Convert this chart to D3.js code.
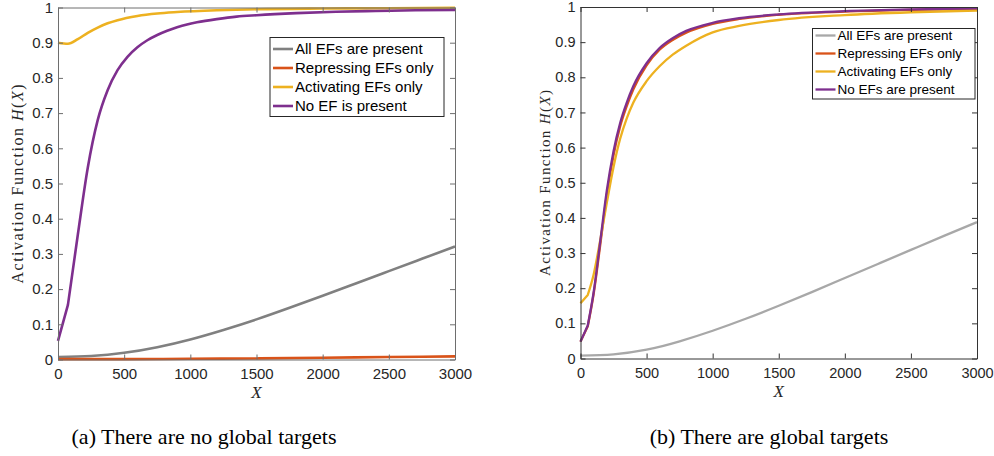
<!DOCTYPE html>
<html>
<head>
<meta charset="utf-8">
<script src="https://cdn.jsdelivr.net/npm/d3@7"></script>
<style>
  body { margin: 0; background: #fff; }
  svg { display: block; }
</style>
</head>
<body>
<svg id="chart" width="994" height="456"></svg>
<script>
// Axis ticks shared by both panels
const xTickValues = [0, 500, 1000, 1500, 2000, 2500, 3000];
const yTickValues = [0, 0.1, 0.2, 0.3, 0.4, 0.5, 0.6, 0.7, 0.8, 0.9, 1];

// Panel (a): no global targets
const aAllX  = [0, 250, 500, 750, 1000, 1250, 1500, 1750, 2000, 2250, 2500, 2750, 3000];
const aAllY  = [0.007, 0.010, 0.019, 0.035, 0.057, 0.084, 0.114, 0.147, 0.181, 0.216, 0.251, 0.286, 0.321];
const aRepX  = [0, 500, 1000, 1500, 2000, 2500, 3000];
const aRepY  = [0.001, 0.001, 0.002, 0.003, 0.005, 0.007, 0.009];
const aActX  = [0, 75, 150, 225, 300, 375, 450, 600, 750, 900, 1200, 1500, 2000, 2500, 3000];
const aActY  = [0.900, 0.897, 0.910, 0.928, 0.943, 0.955, 0.964, 0.976, 0.983, 0.987, 0.992, 0.995, 0.997, 0.998, 0.999];
const aNoneX = [0, 75, 150, 225, 300, 375, 450, 525, 600, 675, 750, 825, 900, 975, 1050, 1200, 1350, 1500, 1800, 2100, 2400, 2700, 3000];
const aNoneY = [0.053, 0.155, 0.355, 0.545, 0.680, 0.765, 0.822, 0.860, 0.887, 0.907, 0.922, 0.934, 0.944, 0.952, 0.958, 0.967, 0.974, 0.978, 0.984, 0.988, 0.990, 0.992, 0.993];

// Panel (b): global targets
const bAllX  = [0, 250, 500, 750, 1000, 1250, 1500, 1750, 2000, 2250, 2500, 2750, 3000];
const bAllY  = [0.008, 0.012, 0.025, 0.049, 0.079, 0.113, 0.150, 0.189, 0.229, 0.269, 0.309, 0.349, 0.388];
const bRepX  = [0, 55, 100, 150, 200, 250, 300, 350, 400, 500, 600, 700, 800, 1000, 1200, 1500, 2000, 2500, 3000];
const bRepY  = [0.048, 0.092, 0.185, 0.325, 0.468, 0.578, 0.660, 0.718, 0.766, 0.834, 0.879, 0.907, 0.927, 0.952, 0.966, 0.978, 0.987, 0.992, 0.995];
const bActX  = [0, 55, 100, 150, 200, 250, 300, 350, 400, 500, 600, 700, 800, 1000, 1200, 1500, 2000, 2500, 3000];
const bActY  = [0.157, 0.181, 0.240, 0.338, 0.445, 0.545, 0.625, 0.683, 0.728, 0.789, 0.832, 0.865, 0.890, 0.928, 0.946, 0.963, 0.977, 0.985, 0.990];
const bNoneX = [0, 55, 100, 150, 200, 250, 300, 350, 400, 500, 600, 700, 800, 1000, 1200, 1500, 2000, 2500, 3000];
const bNoneY = [0.048, 0.094, 0.190, 0.335, 0.480, 0.590, 0.670, 0.728, 0.775, 0.840, 0.884, 0.912, 0.932, 0.955, 0.968, 0.979, 0.988, 0.993, 0.996];

const namesA = ["All EFs are present", "Repressing EFs only", "Activating EFs only", "No EF is present"];
const namesB = ["All EFs are present", "Repressing EFs only", "Activating EFs only", "No EFs are present"];
const captions = ["(a) There are no global targets", "(b) There are global targets"];

const svg = d3.select("#chart");
const SANS = "'Liberation Sans', Arial, Helvetica, sans-serif";
const SERIF = "'Liberation Serif', 'DejaVu Serif', serif";
const TEXT = "#262626";

const zip = (xs, ys) => xs.map((v, i) => [v, ys[i]]);
const fmt = d => String(+d.toFixed(1));

function panel(opt) {
  const g = svg.append("g");
  const x = d3.scaleLinear().domain([0, 3000]).range([opt.x0, opt.x1]);
  const y = d3.scaleLinear().domain([0, 1]).range([opt.yb, opt.yt]);

  // curves: smooth through the samples; series flagged "kink" keep a
  // straight first segment (coarse first sample step)
  const smooth = d3.line().x(d => x(d[0])).y(d => y(d[1])).curve(d3.curveMonotoneX);
  const natural = d3.line().x(d => x(d[0])).y(d => y(d[1])).curve(d3.curveNatural);
  opt.series.forEach(s => {
    const pts = zip(s.xs, s.ys);
    let d;
    if (s.kink) {
      const rest = smooth(pts.slice(1));
      d = `M${x(pts[0][0])},${y(pts[0][1])}L` + rest.slice(1);
    } else if (s.natural) {
      d = natural(pts);
    } else {
      d = smooth(pts);
    }
    g.append("path")
      .attr("d", d)
      .attr("fill", "none")
      .attr("stroke", s.color)
      .attr("stroke-width", opt.lw)
      .attr("stroke-linejoin", "round");
  });

  // axes (ticks point inward, box on)
  const styleAxis = (sel, labels) => {
    sel.selectAll("path.domain").attr("stroke", opt.frame).attr("stroke-width", 1);
    sel.selectAll(".tick line").attr("stroke", opt.frame).attr("stroke-width", 1);
    sel.selectAll(".tick text")
      .attr("fill", TEXT)
      .style("font-family", SANS)
      .style("font-size", opt.tfs + "px");
    if (!labels) sel.selectAll(".tick text").remove();
  };
  g.append("g").attr("transform", `translate(0,${opt.yb})`)
    .call(d3.axisBottom(x).tickValues(xTickValues).tickFormat(fmt).tickSize(-5).tickSizeOuter(0).tickPadding(9))
    .call(s => styleAxis(s, true));
  g.append("g").attr("transform", `translate(0,${opt.yt})`)
    .call(d3.axisTop(x).tickValues(xTickValues).tickSize(-5).tickSizeOuter(0))
    .call(s => styleAxis(s, false));
  g.append("g").attr("transform", `translate(${opt.x0},0)`)
    .call(d3.axisLeft(y).tickValues(yTickValues).tickFormat(fmt).tickSize(-5).tickSizeOuter(0).tickPadding(5))
    .call(s => styleAxis(s, true));
  g.append("g").attr("transform", `translate(${opt.x1},0)`)
    .call(d3.axisRight(y).tickValues(yTickValues).tickSize(-5).tickSizeOuter(0))
    .call(s => styleAxis(s, false));

  // y label
  const yl = g.append("text")
    .attr("transform", `translate(${opt.ylx},${opt.ylc}) rotate(-90)`)
    .attr("text-anchor", "middle")
    .attr("textLength", opt.yll)
    .attr("lengthAdjust", "spacing")
    .attr("fill", TEXT)
    .style("font-family", SERIF)
    .style("font-size", opt.ylfs + "px");
  yl.append("tspan").text("Activation Function ");
  yl.append("tspan").style("font-style", "italic").text("H");
  yl.append("tspan").text("(");
  yl.append("tspan").style("font-style", "italic").text("X");
  yl.append("tspan").text(")");

  // x label
  g.append("text")
    .attr("x", (opt.x0 + opt.x1) / 2)
    .attr("y", opt.yb + 38)
    .attr("text-anchor", "middle")
    .attr("fill", TEXT)
    .style("font-family", SERIF)
    .style("font-style", "italic")
    .style("font-size", "17px")
    .text("X");

  // legend
  const L = opt.legend;
  const lg = g.append("g");
  lg.append("rect")
    .attr("x", L.x).attr("y", L.y).attr("width", L.w).attr("height", L.h)
    .attr("fill", "#fff").attr("stroke", "#262626").attr("stroke-width", 1);
  opt.series.forEach((s, i) => {
    const cy = L.y + L.first + i * L.step;
    lg.append("line")
      .attr("x1", L.x + 3).attr("x2", L.x + 23)
      .attr("y1", cy).attr("y2", cy)
      .attr("stroke", s.color).attr("stroke-width", opt.lw);
    lg.append("text")
      .attr("x", L.x + 25).attr("y", cy)
      .attr("dy", "0.35em")
      .attr("fill", "#000")
      .style("font-family", SANS)
      .style("font-size", L.fs + "px")
      .text(s.name);
  });

  // caption
  svg.append("text")
    .attr("x", opt.capX).attr("y", 444)
    .attr("text-anchor", "middle")
    .attr("fill", "#000")
    .style("font-family", SERIF)
    .style("font-size", "22px")
    .text(opt.caption);
}

panel({
  x0: 58, x1: 455, yt: 7.5, yb: 359.5, lw: 2.6, frame: "#6e6e6e", tfs: 15,
  ylx: 23, ylc: 184, yll: 199, ylfs: 16,
  series: [
    { xs: aAllX,  ys: aAllY,  color: "#808080", name: namesA[0], natural: true },
    { xs: aRepX,  ys: aRepY,  color: "#D95319", name: namesA[1] },
    { xs: aActX,  ys: aActY,  color: "#EDB120", name: namesA[2] },
    { xs: aNoneX, ys: aNoneY, color: "#7E2F8E", name: namesA[3], kink: true }
  ],
  legend: { x: 270, y: 37.5, w: 174, h: 79, first: 11.5, step: 19, fs: 15 },
  caption: captions[0], capX: 204
});

panel({
  x0: 580.5, x1: 977, yt: 7, yb: 358.5, lw: 2.3, frame: "#333333", tfs: 14.5,
  ylx: 550, ylc: 183, yll: 186, ylfs: 15,
  series: [
    { xs: bAllX,  ys: bAllY,  color: "#a8a8a8", name: namesB[0], natural: true },
    { xs: bRepX,  ys: bRepY,  color: "#D95319", name: namesB[1], kink: true },
    { xs: bActX,  ys: bActY,  color: "#EDB120", name: namesB[2], kink: true },
    { xs: bNoneX, ys: bNoneY, color: "#7E2F8E", name: namesB[3], kink: true }
  ],
  legend: { x: 812.5, y: 28.5, w: 162.5, h: 70.5, first: 7, step: 18, fs: 13.5 },
  caption: captions[1], capX: 769
});
</script>
</body>
</html>
